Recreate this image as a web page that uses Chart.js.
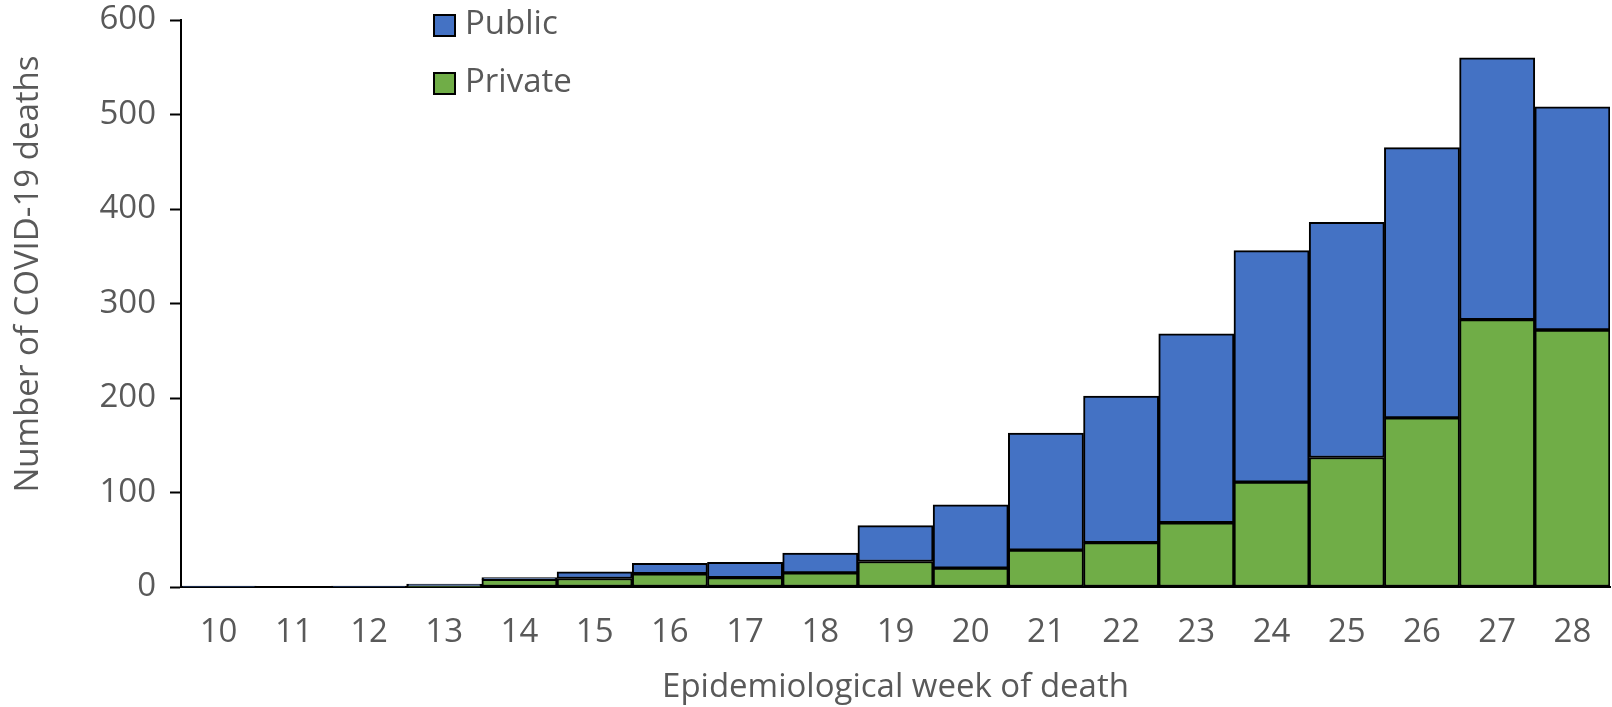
<!DOCTYPE html>
<html>
<head>
<meta charset="utf-8">
<script src="https://cdn.jsdelivr.net/npm/chart.js@4"></script>
<style>
  html, body { margin: 0; padding: 0; background: #fff; }
  #wrap { width: 1612px; height: 707px; }
</style>
</head>
<body>
<div id="wrap"><canvas id="chart" width="1612" height="707"></canvas></div>
<script>
// Epidemiological weeks and deaths per week
const weeks = ['10', '11', '12', '13', '14', '15', '16', '17', '18', '19', '20', '21', '22', '23', '24', '25', '26', '27', '28'];
const privateDeaths = [0, 0, 0, 1, 8, 9, 14, 10, 15, 27, 20, 39, 47, 68, 111, 137, 179, 283, 272];
const publicDeaths = [1, 0, 1, 2, 2, 7, 11, 16, 21, 38, 67, 124, 155, 200, 245, 249, 286, 277, 236];
const yTicks = [0, 100, 200, 300, 400, 500, 600];
const yTitle = 'Number of COVID-19 deaths';

const textColor = '#595959';
const fontFamily = '"Open Sans", sans-serif';
const fontSize = 33;

// Vertical legend and the y title, drawn by hand
const labelsPlugin = {
    id: 'handLabels',
    afterDraw(chart) {
        const ctx = chart.ctx;
        const items = [chart.data.datasets[1], chart.data.datasets[0]];
        ctx.save();
        ctx.font = fontSize + 'px ' + fontFamily;
        ctx.textBaseline = 'middle';
        items.forEach((ds, i) => {
            const y = 25 + i * 58;
            ctx.fillStyle = ds.backgroundColor;
            ctx.fillRect(434, y - 10, 21, 21);
            ctx.strokeStyle = '#000';
            ctx.lineWidth = 2;
            ctx.strokeRect(434, y - 10, 21, 21);
            ctx.fillStyle = textColor;
            ctx.fillText(ds.label, 465, y);
        });
        // y axis title sits a bit above the plot centre
        ctx.translate(29, 274);
        ctx.rotate(-Math.PI / 2);
        ctx.textAlign = 'center';
        ctx.fillText(yTitle, 0, 0);
        ctx.restore();
    }
};

const ctx = document.getElementById('chart').getContext('2d');
new Chart(ctx, {
    type: 'bar',
    data: {
        labels: weeks,
        datasets: [
            {
                label: 'Private',
                data: privateDeaths,
                backgroundColor: '#70AD47',
                borderColor: '#000',
                borderWidth: 2,
                borderSkipped: false,
                barPercentage: 1,
                categoryPercentage: 1
            },
            {
                label: 'Public',
                data: publicDeaths,
                backgroundColor: '#4472C4',
                borderColor: '#000',
                borderWidth: 2,
                borderSkipped: false,
                barPercentage: 1,
                categoryPercentage: 1
            }
        ]
    },
    options: {
        responsive: false,
        animation: false,
        layout: { padding: { top: 20, right: 2, left: 0, bottom: 0 } },
        plugins: {
            legend: { display: false },
            tooltip: { enabled: false }
        },
        scales: {
            x: {
                stacked: true,
                grid: { display: false, drawTicks: false },
                border: { display: true, color: '#000', width: 2 },
                ticks: { color: textColor, font: { family: fontFamily, size: fontSize }, padding: 26 },
                title: {
                    display: true,
                    text: 'Epidemiological week of death',
                    color: textColor,
                    font: { family: fontFamily, size: fontSize },
                    padding: { top: 10, bottom: 0 }
                },
                afterFit(scale) {
                    scale.height = 120;
                    scale.paddingLeft = 0;
                    scale.paddingRight = 0;
                }
            },
            y: {
                stacked: true,
                min: 0,
                max: 600,
                afterBuildTicks(scale) { scale.ticks = yTicks.map(v => ({ value: v })); },
                grid: { drawOnChartArea: false, drawTicks: true, tickLength: 11, tickColor: '#000', tickWidth: 2 },
                border: { display: true, color: '#000', width: 2 },
                ticks: { color: textColor, font: { family: fontFamily, size: fontSize }, padding: 14 },
                title: { display: false },
                afterFit(scale) {
                    scale.width = 181;
                    scale.paddingTop = 0;
                    scale.paddingBottom = 0;
                }
            }
        }
    },
    plugins: [labelsPlugin]
});
</script>
</body>
</html>
